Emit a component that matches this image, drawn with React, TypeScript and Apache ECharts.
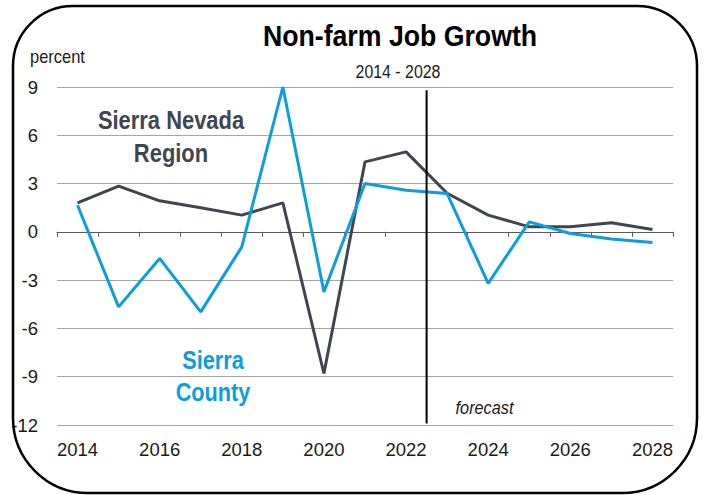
import React, { useEffect, useRef } from "react";
import * as echarts from "echarts";

const years = ["2014","2015","2016","2017","2018","2019","2020","2021","2022","2023","2024","2025","2026","2027","2028"];
const regionValues = [1.8, 2.84, 1.93, 1.5, 1.04, 1.8, -8.8, 4.35, 4.97, 2.4, 1.04, 0.31, 0.31, 0.56, 0.15];
const countyValues = [1.65, -4.66, -1.65, -4.97, -0.93, 9.0, -3.73, 3.0, 2.59, 2.38, -3.2, 0.62, -0.1, -0.45, -0.66];
const yMin = -12;
const yMax = 9;
const yStep = 3;
const forecastAfter = "2022";
const forecastStart = "2023";

const FONT = "'Liberation Sans', Arial, Helvetica, sans-serif";
const NARROW = "'Liberation Sans Narrow', 'Arial Narrow', 'Liberation Sans', Arial, sans-serif";
const DARK = "#404552";
const BLUE = "#0c9edb";

export default function App() {
  const ref = useRef<HTMLDivElement>(null);
  useEffect(() => {
    document.body.style.margin = "0";
    const chart = echarts.init(ref.current!, null, { renderer: "svg" });
    chart.setOption({
      animation: false,
      backgroundColor: "#ffffff",
      textStyle: { fontFamily: FONT },
      grid: { left: 57, right: 32, top: 87, bottom: 70 },
      xAxis: [
        {
          type: "category",
          data: years,
          position: "bottom",
          boundaryGap: true,
          axisLine: { onZero: true, lineStyle: { color: "#595959", width: 1 } },
          axisTick: { show: true, interval: 0, length: 5, lineStyle: { color: "#595959" } },
          axisLabel: { show: false },
          splitLine: { show: false },
        },
        {
          type: "category",
          data: years,
          position: "bottom",
          boundaryGap: true,
          axisLine: { show: false, onZero: false },
          axisTick: { show: false },
          axisLabel: { show: true, interval: 1, margin: 15, fontSize: 18.5, color: "#1a1a1a", fontFamily: NARROW },
          splitLine: { show: false },
        },
      ],
      yAxis: {
        type: "value",
        min: yMin,
        max: yMax,
        interval: yStep,
        axisLine: { show: false },
        axisTick: { show: false },
        axisLabel: { fontSize: 18.5, color: "#1a1a1a", margin: 19, fontFamily: NARROW },
        splitLine: { lineStyle: { color: "#a6a6a6", width: 1 } },
      },
      series: [
        {
          name: "Sierra Nevada Region",
          type: "line",
          xAxisIndex: 0,
          data: regionValues,
          symbol: "none",
          lineStyle: { color: DARK, width: 3 },
          z: 3,
        },
        {
          name: "Sierra County",
          type: "line",
          xAxisIndex: 0,
          data: countyValues,
          symbol: "none",
          lineStyle: { color: BLUE, width: 3 },
          z: 4,
        },
      ],
    });

    const x1 = chart.convertToPixel({ xAxisIndex: 0 }, forecastAfter) as number;
    const x2 = chart.convertToPixel({ xAxisIndex: 0 }, forecastStart) as number;
    const xm = (x1 + x2) / 2;
    const yTop = chart.convertToPixel({ yAxisIndex: 0 }, 8.8) as number;
    const yBot = chart.convertToPixel({ yAxisIndex: 0 }, -11.9) as number;
    const yForecast = chart.convertToPixel({ yAxisIndex: 0 }, -10.9) as number;

    chart.setOption({
      graphic: [
        {
          type: "rect",
          shape: { x: 13, y: 6, width: 684, height: 487, r: [60, 60, 75, 75] },
          style: { fill: "none", stroke: "#000", lineWidth: 2.5 },
          z: 10,
          silent: true,
        },
        {
          type: "line",
          shape: { x1: xm, y1: yTop, x2: xm, y2: yBot },
          style: { stroke: "#000", lineWidth: 2 },
          z: 10,
        },
        {
          type: "text",
          x: xm + 29,
          y: yForecast,
          scaleX: 0.88,
          style: { text: "forecast", font: `italic 18.5px ${FONT}`, fill: "#1a1a1a", align: "left", verticalAlign: "middle" },
          z: 10,
        },
        {
          type: "text",
          x: 400,
          y: 35,
          scaleX: 0.89,
          style: { text: "Non-farm Job Growth", font: `bold 30px ${FONT}`, fill: "#000", align: "center", verticalAlign: "middle" },
          z: 10,
        },
        {
          type: "text",
          x: 398,
          y: 72,
          scaleX: 0.86,
          style: { text: "2014 - 2028", font: `18.5px ${FONT}`, fill: "#1a1a1a", align: "center", verticalAlign: "middle" },
          z: 10,
        },
        {
          type: "text",
          x: 30,
          y: 57,
          scaleX: 0.89,
          style: { text: "percent", font: `18.5px ${FONT}`, fill: "#1a1a1a", align: "left", verticalAlign: "middle" },
          z: 10,
        },
        {
          type: "text",
          x: 171,
          y: 136,
          scaleX: 0.86,
          style: { text: "Sierra Nevada\nRegion", font: `bold 25.5px ${FONT}`, lineHeight: 33, fill: DARK, align: "center", verticalAlign: "middle" },
          z: 10,
        },
        {
          type: "text",
          x: 213,
          y: 376,
          scaleX: 0.85,
          style: { text: "Sierra\nCounty", font: `bold 25.5px ${FONT}`, lineHeight: 32, fill: BLUE, align: "center", verticalAlign: "middle" },
          z: 10,
        },
      ],
    });

    return () => chart.dispose();
  }, []);
  return <div ref={ref} style={{ width: 705, height: 495 }} />;
}
